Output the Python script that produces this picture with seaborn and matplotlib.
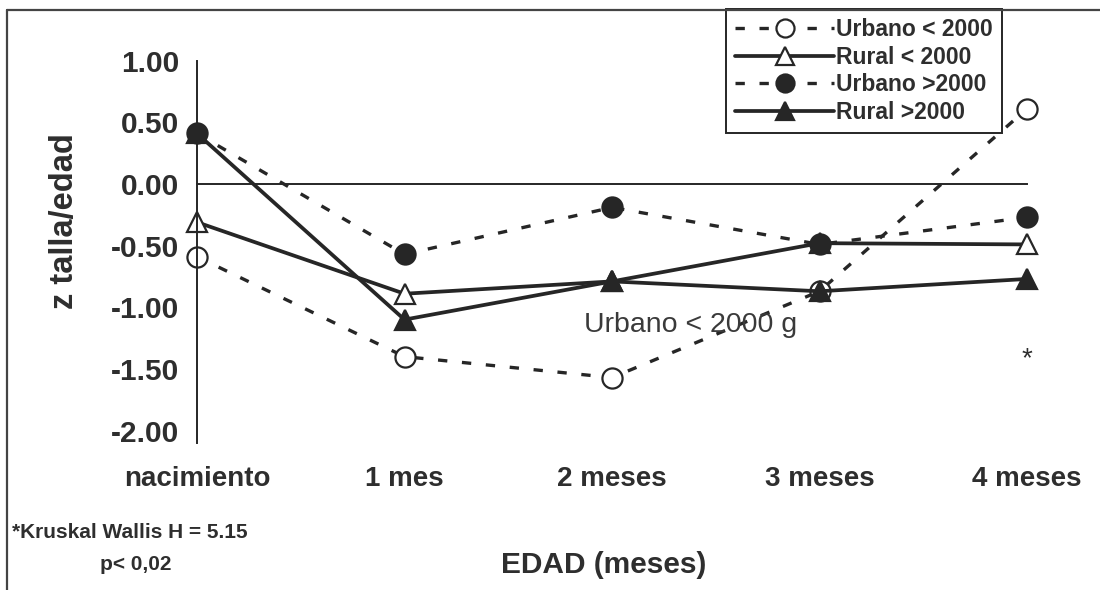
"""
z talla/edad por grupo (Urbano/Rural, peso al nacer) - recreated with seaborn
"""

import pandas as pd
import matplotlib
matplotlib.use("Agg")
import matplotlib.pyplot as plt
from matplotlib.lines import Line2D
import seaborn as sns

# data
edad = ['nacimiento', '1 mes', '2 meses', '3 meses', '4 meses']
urbano_menor = [-0.59, -1.40, -1.57, -0.87, 0.61]
rural_menor = [-0.31, -0.89, -0.79, -0.48, -0.49]
urbano_mayor = [0.41, -0.57, -0.19, -0.49, -0.27]
rural_mayor = [0.41, -1.10, -0.79, -0.87, -0.77]
grupos = ['Urbano < 2000', 'Rural < 2000', 'Urbano >2000', 'Rural >2000']
y_ticks = [1.0, 0.5, 0.0, -0.5, -1.0, -1.5, -2.0]

sns.set_style("white")
plt.rcParams['font.family'] = ['Liberation Sans', 'DejaVu Sans']
plt.rcParams['axes.unicode_minus'] = False

INK = '#262626'
TXT = '#2e2e2e'

df = pd.DataFrame({
    'pos': list(range(len(edad))) * 4,
    'edad': edad * 4,
    'z': urbano_menor + rural_menor + urbano_mayor + rural_mayor,
    'grupo': [g for g in grupos for _ in edad],
})

# style per group: marker, face colour, dashed?
estilos = {
    'Urbano < 2000': ('o', 'white', (0, (2.8, 4.4))),
    'Rural < 2000': ('^', 'white', '-'),
    'Urbano >2000': ('o', INK, (0, (2.8, 4.4))),
    'Rural >2000': ('^', INK, '-'),
}

fig = plt.figure(figsize=(11, 5.9), dpi=100)
ax = fig.add_axes([120 / 1100, 140 / 590, 970 / 1100, 430 / 590])

for g in grupos:
    marker, face, ls = estilos[g]
    sub = df[df['grupo'] == g]
    sns.lineplot(data=sub, x='pos', y='z', ax=ax, color=INK, label=g,
                 marker=marker, markersize=14.5, markerfacecolor=face,
                 markeredgecolor=INK, markeredgewidth=1.6,
                 linestyle=ls, linewidth=2.7 if ls == '-' else 2.4,
                 errorbar=None, clip_on=False)

ax.set_xlim((120 - 197) / 207.5, (1090 - 197) / 207.5)
ax.set_ylim((184 - 450) / 123.3, (184 - 20) / 123.3)

# axes drawn through the origin, like the original
for s in ['top', 'right']:
    ax.spines[s].set_visible(False)
ax.spines['left'].set_position(('data', 0))
ax.spines['bottom'].set_position(('data', 0))
ax.spines['left'].set_bounds(-2.1, 1.0)
ax.spines['bottom'].set_bounds(0, len(edad) - 1)
for s in ['left', 'bottom']:
    ax.spines[s].set_color(INK)
    ax.spines[s].set_linewidth(1.4)

ax.set_yticks(y_ticks)
ax.set_yticklabels([f'{v:.2f}' for v in y_ticks], fontsize=21.5,
                   fontweight='bold', color=TXT)
ax.tick_params(axis='y', direction='inout', length=16, width=1.4,
               color=INK, pad=5)
ax.set_xticks(range(len(edad)))
ax.set_xticklabels([''] * len(edad))
ax.tick_params(axis='x', direction='inout', length=17, width=1.4, color=INK)

# category labels sit at the bottom, not at the zero line
for i, lab in enumerate(edad):
    ax.text(i, -2.39, lab, ha='center', va='center', fontsize=20,
            fontweight='bold', color=TXT, clip_on=False)

ax.set_xlabel('')
ax.set_ylabel('')
fig.text(65 / 1100, 1 - 221 / 590, 'z talla/edad', rotation=90,
         ha='center', va='center', fontsize=23.5, fontweight='bold', color=TXT)
fig.text(604 / 1100, 1 - 565 / 590, 'EDAD (meses)', ha='center',
         va='center', fontsize=21.5, fontweight='bold', color=TXT)
fig.text(12 / 1100, 1 - 533 / 590, '*Kruskal Wallis H = 5.15', ha='left',
         va='center', fontsize=15, fontweight='bold', color=TXT)
fig.text(100 / 1100, 1 - 565 / 590, 'p< 0,02', ha='left', va='center',
         fontsize=15, fontweight='bold', color=TXT)

ax.text(2.38, -1.14, 'Urbano < 2000 g', ha='center', va='center',
        fontsize=20.5, color='#3a3a3a')
ax.text(4, -1.42, '*', ha='center', va='center', fontsize=20, color=TXT)

# legend box in the upper right, touching the frame
handles, labels = ax.get_legend_handles_labels()
leg = ax.legend(handles, labels, loc='upper right',
                bbox_to_anchor=(1002 / 1100, 1 - 9 / 590),
                bbox_transform=fig.transFigure, frameon=True, fancybox=False,
                edgecolor=INK, framealpha=1, handlelength=4.3,
                handletextpad=0.1, labelspacing=0.2, borderpad=0.4,
                borderaxespad=0,
                prop={'size': 16.5, 'weight': 'bold', 'family': 'Liberation Sans'})
leg.get_frame().set_linewidth(1.4)
for t in leg.get_texts():
    t.set_color(TXT)
for h in leg.legend_handles:
    h.set_markersize(13)

# scanned page frame: left and top edges
fig.add_artist(Line2D([7 / 1100, 7 / 1100], [0, 1 - 10 / 590],
                      transform=fig.transFigure, color='#444444', lw=1.6))
fig.add_artist(Line2D([7 / 1100, 1], [1 - 10 / 590, 1 - 10 / 590],
                      transform=fig.transFigure, color='#444444', lw=1.6))

fig.savefig('out.png', dpi=100)
plt.close(fig)
